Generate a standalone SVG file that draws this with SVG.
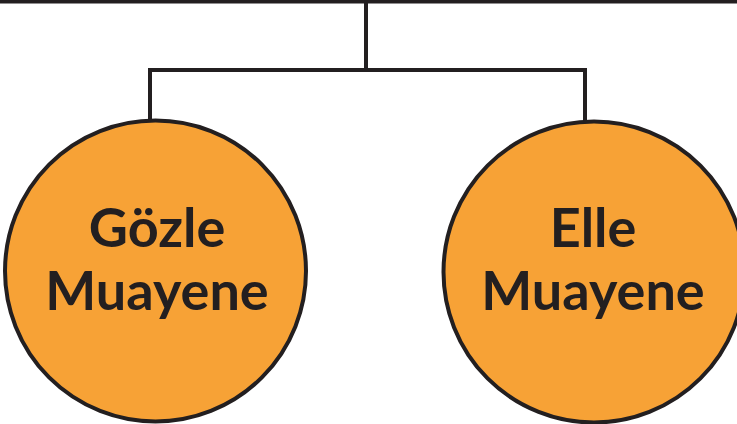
<svg xmlns="http://www.w3.org/2000/svg" width="737" height="424" viewBox="0 0 737 424">
<style>
.node{fill:#F7A236;stroke:#231F20;stroke-width:4}
.lbl{font-family:Lato,"Open Sans","Liberation Sans",sans-serif;font-weight:bold;font-size:54px;fill:#231F20;text-anchor:middle}
.conn{fill:none;stroke:#231F20;stroke-width:4}
</style>
<rect width="737" height="424" fill="#ffffff"/>
<g id="connectors">
<line class="conn" x1="0" y1="1.5" x2="737" y2="1.5"/>
<line class="conn" x1="366" y1="0" x2="366" y2="70"/>
<polyline class="conn" points="150,120 150,70 585,70 585,121"/>
</g>
<g id="node-gozle">
<circle class="node" cx="155.5" cy="271" r="150.5"/>
<text class="lbl" x="157" y="247">Gözle</text>
<text class="lbl" x="157" y="310">Muayene</text>
</g>
<g id="node-elle">
<circle class="node" cx="594" cy="272" r="150.5"/>
<text class="lbl" x="593" y="247">Elle</text>
<text class="lbl" x="593" y="310">Muayene</text>
</g>
</svg>
